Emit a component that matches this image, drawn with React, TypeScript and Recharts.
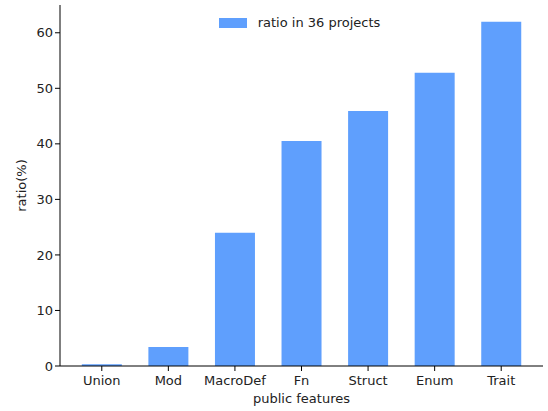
import { Bar, BarChart, XAxis, YAxis } from 'recharts';

const categories = ['Union', 'Mod', 'MacroDef', 'Fn', 'Struct', 'Enum', 'Trait'];
const ratios = [0.3, 3.4, 24.0, 40.5, 45.9, 52.8, 62.0];
const yTicks = [0, 10, 20, 30, 40, 50, 60];

const data = categories.map((name, i) => ({ name, ratio: ratios[i] }));

const font = 'DejaVu Sans, sans-serif';
const barColor = '#5f9ffd';

// legend drawn outside the chart so it doesn't steal plot space
const LegendBox = () => (
  <div
    style={{
      position: 'absolute',
      top: 15,
      left: 58,
      width: 483,
      display: 'flex',
      alignItems: 'center',
      justifyContent: 'center',
      fontFamily: font,
      fontSize: 13,
      color: '#222',
    }}
  >
    <span
      style={{
        display: 'inline-block',
        width: 28,
        height: 10,
        background: barColor,
        marginRight: 11,
      }}
    />
    ratio in 36 projects
  </div>
);

const App = () => {
  return (
    <div style={{ position: 'relative', width: 548, height: 411 }}>
      <style>{`body{margin:0}`}</style>
      <BarChart
        width={548}
        height={411}
        data={data}
        margin={{ top: 5, right: 5, bottom: 15, left: 18 }}
        barCategoryGap="20%"
      >
        <XAxis
          dataKey="name"
          padding={{ left: 8.5, right: 8.5 }}
          stroke="#000"
          tick={{ fill: '#222', fontSize: 13, fontFamily: font, dy: 3 }}
          tickSize={5}
          height={30}
          label={{
            value: 'public features',
            position: 'insideBottom',
            offset: -7,
            fill: '#222',
            fontSize: 13,
            fontFamily: font,
          }}
        />
        <YAxis
          domain={[0, 65]}
          ticks={yTicks}
          allowDataOverflow
          stroke="#000"
          tick={{ fill: '#222', fontSize: 13, fontFamily: font }}
          tickSize={5}
          width={42}
          label={{
            value: 'ratio(%)',
            angle: -90,
            position: 'insideLeft',
            offset: 3,
            fill: '#222',
            fontSize: 13,
            fontFamily: font,
            style: { textAnchor: 'middle' },
          }}
        />
        <Bar dataKey="ratio" fill={barColor} isAnimationActive={false} />
      </BarChart>
      <LegendBox />
    </div>
  );
};

export default App;
